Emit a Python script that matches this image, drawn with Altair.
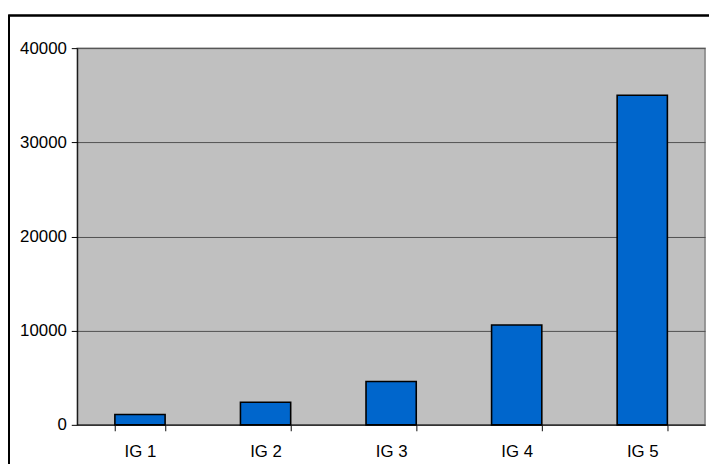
import altair as alt
import pandas as pd

categories = ["IG 1", "IG 2", "IG 3", "IG 4", "IG 5"]
values = [1100, 2400, 4600, 10600, 35000]
y_ticks = [0, 10000, 20000, 30000, 40000]

df = pd.DataFrame({"cat": categories, "val": values})

FONT = "Liberation Sans"

bars = alt.Chart(df).mark_bar(
    color="#0066CC", stroke="black", strokeWidth=1.6
).encode(
    x=alt.X("cat:N", sort=categories,
            scale=alt.Scale(paddingInner=0.6, paddingOuter=0.3),
            axis=alt.Axis(title=None, labelAngle=0, tickBand="extent",
                          tickSize=6, tickColor="#333333", tickWidth=1.2,
                          domainColor="#333333", domainWidth=1.5,
                          labelPadding=13, labelFontSize=17, labelFont=FONT,
                          labelColor="black", grid=False)),
    y=alt.Y("val:Q",
            scale=alt.Scale(domain=[0, 40000], nice=False),
            axis=alt.Axis(title=None, values=y_ticks, format="d",
                          tickSize=6, tickColor="black", domainColor="black",
                          labelPadding=5, labelFontSize=17, labelFont=FONT,
                          labelColor="black", grid=True, gridColor="#505050",
                          gridWidth=1))
)

frame = alt.Chart(df).mark_rect(
    fill="transparent", stroke="black", strokeWidth=1.5, clip=False
).encode(
    x=alt.value(-69), x2=alt.value(660), y=alt.value(-33), y2=alt.value(440)
)

chart = alt.layer(bars, frame).properties(
    width=635, height=381,
    autosize=alt.AutoSizeParams(type="none"),
    padding={"left": 70, "top": 38, "right": 4, "bottom": 37},
    view=alt.ViewBackground(fill="#C0C0C0", stroke="#808080", strokeWidth=1.5),
).configure(background="white")

chart.save("out.html", embed_options={"renderer": "svg", "actions": False})
